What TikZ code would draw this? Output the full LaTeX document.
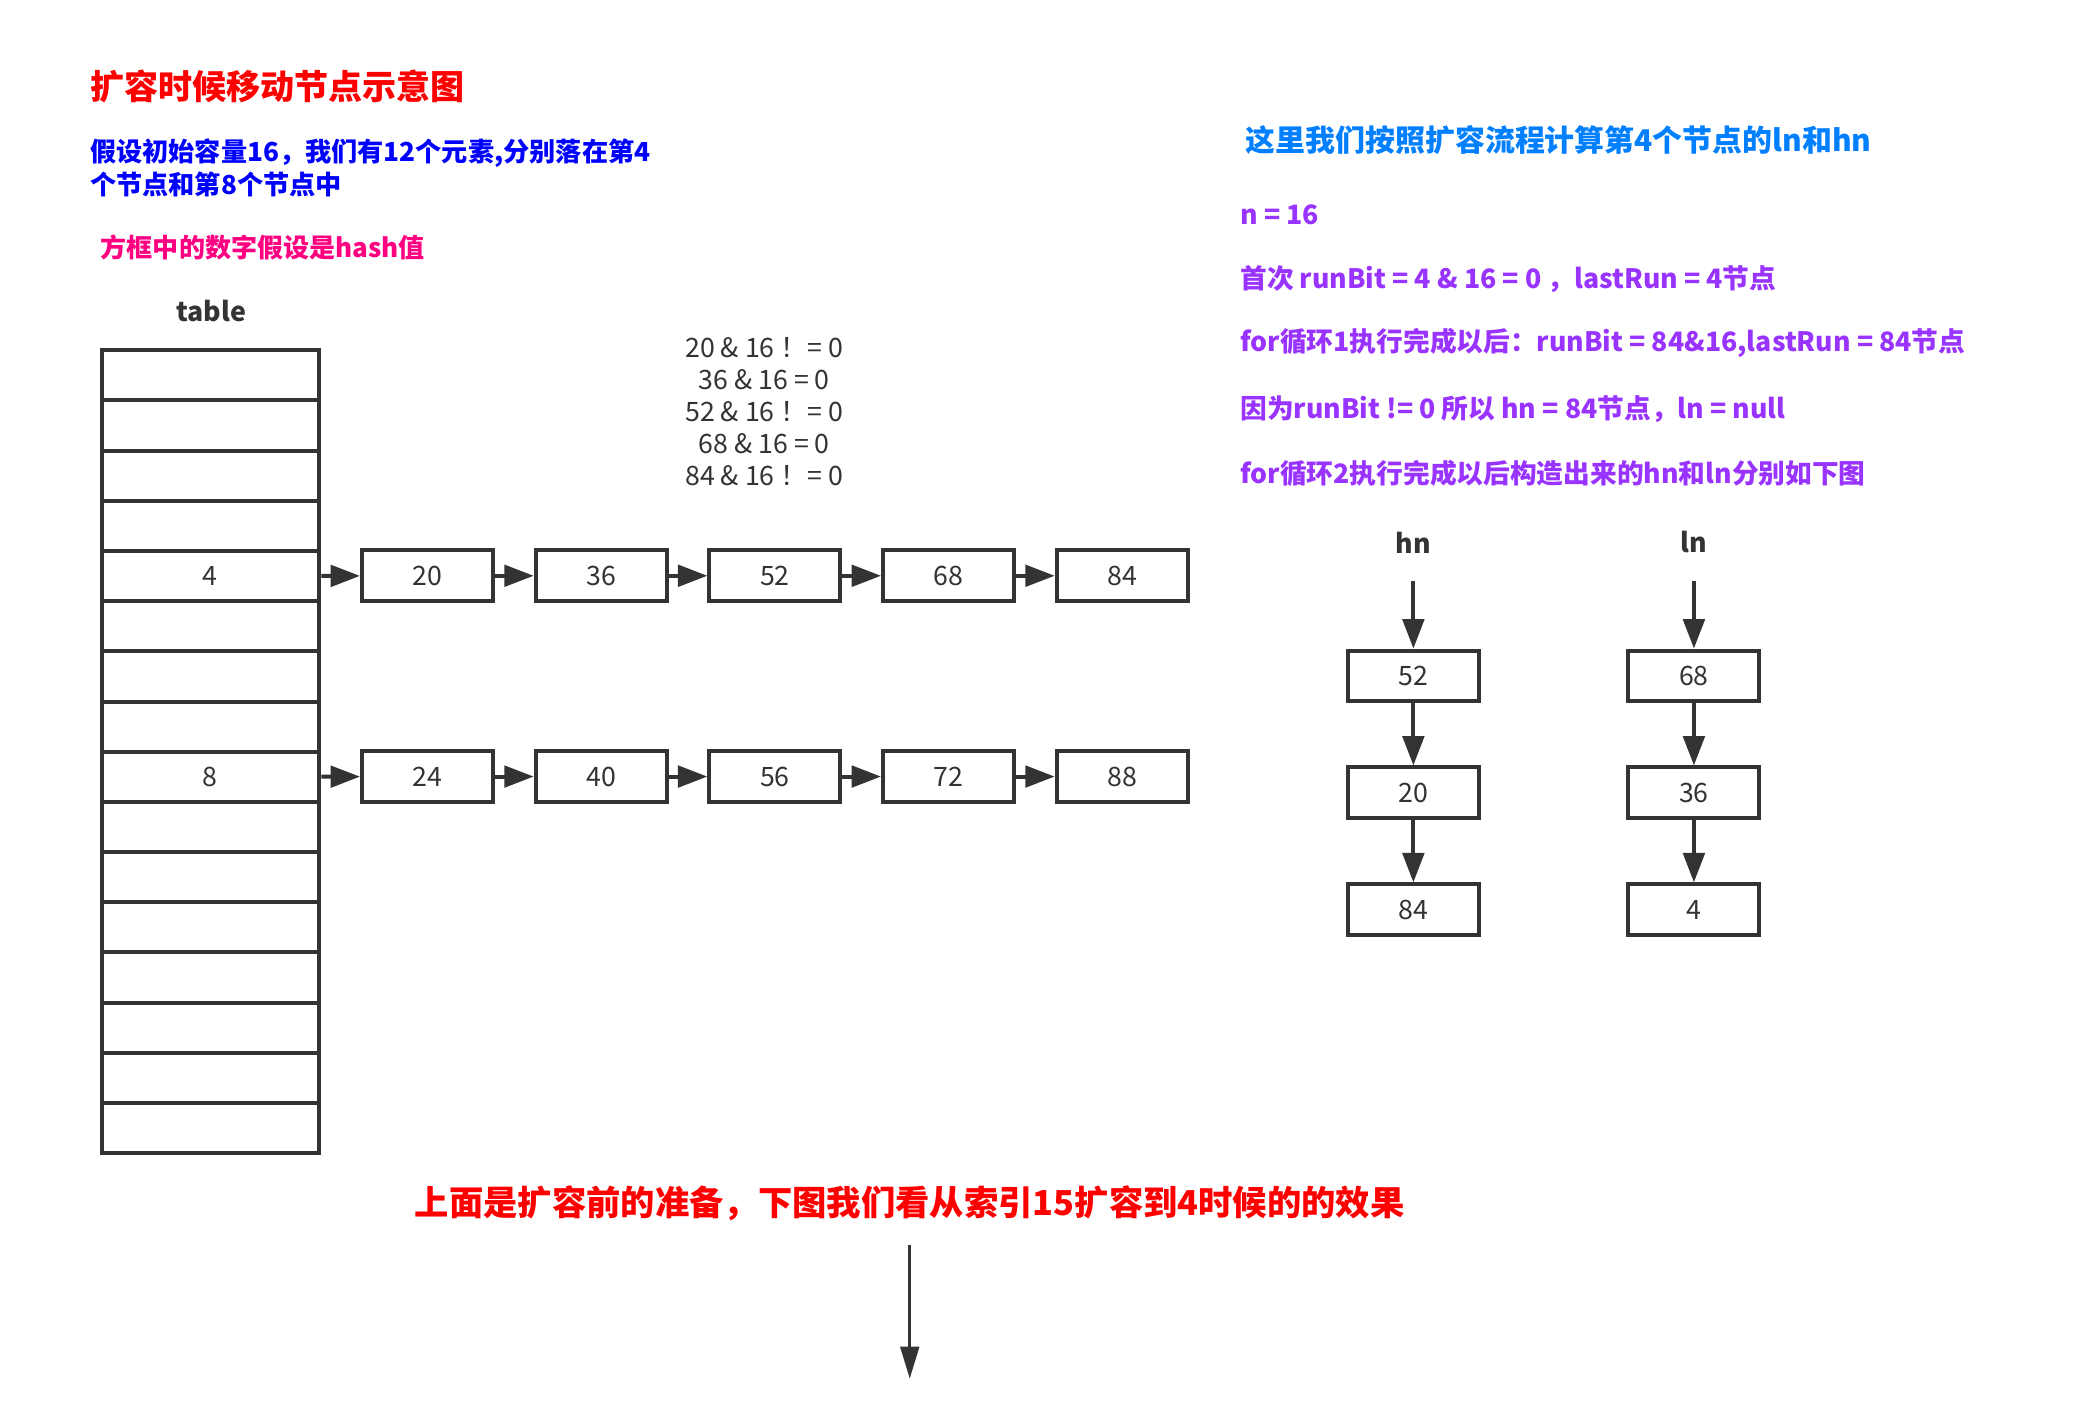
\documentclass[tikz,border=0pt]{standalone}
\usepackage{fontspec}
\setmainfont{Noto Sans CJK SC}
\usepackage{xcolor}
\usepackage{tikz}
\usetikzlibrary{arrows.meta,positioning}

\definecolor{linegray}{HTML}{333333}
\definecolor{titlered}{HTML}{FF0000}
\definecolor{noteblue}{HTML}{0000FF}
\definecolor{notepink}{HTML}{FF0080}
\definecolor{stepblue}{HTML}{007FFF}
\definecolor{steppurple}{HTML}{9933FF}

\begin{document}
\begin{tikzpicture}[x=1pt, y=-1pt, color=linegray, line width=3pt, node distance=29pt]
\tikzstyle{every node} = [font=\fontsize{20}{24}\selectfont]
\tikzset{cell/.style={draw, minimum width=163pt, minimum height=37.56pt, inner sep=0pt},
  item/.style={draw, minimum width=98pt, minimum height=38pt, inner sep=0pt},
  note/.style={anchor=west, inner sep=0pt, font=\fontsize{20}{25}\selectfont\bfseries},
  link/.style={-{Triangle[length=22pt,width=16pt]}}}
\useasboundingbox (0,0) rectangle (1560,1064.5);

% headings on the left
\node[note, text=titlered, font=\fontsize{25.5}{30}\selectfont\bfseries] (title) at (66,65) {扩容时候移动节点示意图};
\node[note, text=noteblue, align=left, font=\fontsize{19.6}{25}\selectfont\bfseries] (intro) at (66,125.5) {假设初始容量16，我们有12个元素,分别落在第4\\个节点和第8个节点中};
\node[note, text=notepink, font=\fontsize{19.5}{24}\selectfont\bfseries] (hint) at (74,185) {方框中的数字假设是hash值};

% the table
\node[font=\fontsize{20}{24}\selectfont\bfseries] (tname) at (158,233) {table};
\foreach \i in {0,...,15}
  \node[cell] (t\i) at (157.5,{281+\i*37.56}) {};
\node (k4) at (t4) {4};
\node (k8) at (t8) {8};

% chain of slot 4
\node[item] (a1) at (320,431) {20};
\node[item, right=of a1] (a2) {36};
\node[item, right=of a2] (a3) {52};
\node[item, right=of a3] (a4) {68};
\node[item, right=of a4] (a5) {84};

% chain of slot 8
\node[item] (b1) at (320,581.3) {24};
\node[item, right=of b1] (b2) {40};
\node[item, right=of b2] (b3) {56};
\node[item, right=of b3] (b4) {72};
\node[item, right=of b4] (b5) {88};

\draw[link] (t4) -- (a1);
\draw[link] (t8) -- (b1);
\foreach \from/\to in {a1/a2, a2/a3, a3/a4, a4/a5, b1/b2, b2/b3, b3/b4, b4/b5}
  \draw[link] (\from) -- (\to);

\node[align=center, inner sep=0pt] (calc) at (572,308) {20 \& 16 ！= 0\\36 \& 16 = 0\\52 \& 16 ！= 0\\68 \& 16 = 0\\84 \& 16 ！= 0};

% steps on the right
\node[note, text=stepblue, font=\fontsize{22.4}{27}\selectfont\bfseries] (steps) at (931,105) {这里我们按照扩容流程计算第4个节点的ln和hn};
\node[note, text=steppurple] (s1) at (927,161) {n = 16};
\node[note, text=steppurple] (s2) at (927,209) {首次 runBit = 4 \& 16 = 0 ，lastRun = 4节点};
\node[note, text=steppurple] (s3) at (927,257) {for循环1执行完成以后：runBit = 84\&16,lastRun = 84节点};
\node[note, text=steppurple] (s4) at (927,306) {因为runBit != 0 所以 hn = 84节点，ln = null};
\node[note, text=steppurple] (s5) at (927,354) {for循环2执行完成以后构造出来的hn和ln分别如下图};

% hn and ln lists
\node[font=\fontsize{20}{24}\selectfont\bfseries] (hname) at (1058,406) {hn};
\node[font=\fontsize{20}{24}\selectfont\bfseries] (lname) at (1268,406) {ln};
\coordinate (hs) at (1058,435);
\coordinate (ls) at (1268,435);
\node[item] (h1) at (1058,506) {52};
\node[item, below=46.5pt of h1] (h2) {20};
\node[item, below=46.5pt of h2] (h3) {84};
\node[item] (l1) at (1268,506) {68};
\node[item, below=46.5pt of l1] (l2) {36};
\node[item, below=46.5pt of l2] (l3) {4};
\foreach \from/\to in {hs/h1, h1/h2, h2/h3, ls/l1, l1/l2, l2/l3}
  \draw[link] (\from) -- (\to);

% bottom remark
\node[text=titlered, inner sep=0pt, font=\fontsize{25.7}{30}\selectfont\bfseries] (next) at (681,901) {上面是扩容前的准备，下图我们看从索引15扩容到4时候的的效果};
\coordinate (ds) at (681,932);
\coordinate (de) at (681,1032);
\draw[line width=2.2pt, -{Triangle[length=24pt,width=14pt]}] (ds) -- (de);
\end{tikzpicture}
\end{document}
